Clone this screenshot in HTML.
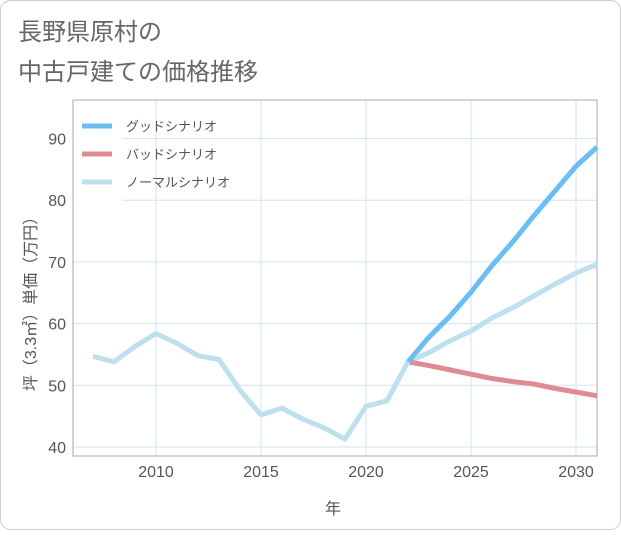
<!DOCTYPE html>
<html><head><meta charset="utf-8"><style>
body{margin:0;background:#fff;}
svg text{font-family:"Liberation Sans","Noto Sans CJK JP",sans-serif;}
</style></head><body>
<svg width="621" height="530" xmlns="http://www.w3.org/2000/svg">
<rect x="0.5" y="0.5" width="620" height="529" rx="10" fill="#fff" stroke="#ccc"/>
<text x="18" y="40" font-size="24" fill="#666">長野県原村の</text>
<text x="18" y="80" font-size="24" fill="#666">中古戸建ての価格推移</text>
<g id="grid"></g>
<rect x="73" y="100" width="524" height="356" fill="none" stroke="#aaa"/>
<g id="series"></g>
<g id="legend"></g>
<text x="333" y="514" font-size="16" fill="#555" text-anchor="middle">年</text>
<text transform="translate(36,300) rotate(-90)" font-size="16" fill="#555" text-anchor="middle">坪（3.3㎡）単価（万円）</text>
</svg>
<script>
const years=[2007,2008,2009,2010,2011,2012,2013,2014,2015,2016,2017,2018,2019,2020,2021,2022];
const history=[54.7,53.8,56.3,58.4,56.8,54.8,54.2,49.2,45.2,46.3,44.5,43.1,41.3,46.6,47.5,53.8];
const futureYears=[2022,2023,2024,2025,2026,2027,2028,2029,2030,2031];
const good=[53.8,57.8,61.2,65.1,69.4,73.3,77.5,81.5,85.5,88.6];
const bad=[53.8,53.2,52.5,51.8,51.1,50.6,50.2,49.5,48.9,48.3];
const normal=[53.8,55.3,57.2,58.8,60.9,62.6,64.5,66.4,68.2,69.6];
const xTicks=[2010,2015,2020,2025,2030];
const yTicks=[40,50,60,70,80,90];
const NS="http://www.w3.org/2000/svg";
const X=y=>156+(y-2010)*21;
const Y=v=>447-(v-40)*6.17;
function mk(t,a,p){const e=document.createElementNS(NS,t);for(const k in a)e.setAttribute(k,a[k]);p.appendChild(e);return e;}
const g=document.getElementById('grid');
xTicks.forEach(t=>{
 const l=mk('line',{x1:X(t),x2:X(t),y1:100,y2:456,stroke:'#d5e3ec'},g);
 
 
 const tx=mk('text',{x:X(t),y:477,'font-size':16,fill:'#555','text-anchor':'middle'},g);tx.textContent=t;
 
 
});
yTicks.forEach(t=>{
 const l=mk('line',{x1:73,x2:597,y1:Y(t),y2:Y(t),stroke:'#d5e3ec'},g);
 
 
 const tx=mk('text',{x:66,y:Y(t)+6,'font-size':16,fill:'#555','text-anchor':'end'},g);tx.textContent=t;
 
 
});
const s=document.getElementById('series');
function line(xs,vs,c,name){
 const p=mk('polyline',{points:xs.map((x,i)=>X(x)+','+Y(vs[i])).join(' '),fill:'none',stroke:c,'stroke-width':5,'stroke-linejoin':'round'},s);
 
 
}
line(futureYears,normal,'#bde0ec','normal-scenario-line');
line(futureYears,bad,'#e08a92','bad-scenario-line');
line(futureYears,good,'#6bbdf2','good-scenario-line');
line(years,history,'#bde0ec','history-line');
const lg=document.getElementById('legend');
const bg=mk('rect',{x:74,y:106,width:48,height:98,fill:'#fff'},lg);


[['グッドシナリオ','#6bbdf2'],['バッドシナリオ','#e08a92'],['ノーマルシナリオ','#bde0ec']].forEach((d,i)=>{
 const y=126+i*28;
 const l=mk('line',{x1:82,x2:112,y1:y,y2:y,stroke:d[1],'stroke-width':5},lg);
 
 
 const t=mk('text',{x:126,y:y+5,'font-size':13,fill:'#555'},lg);t.textContent=d[0];
 
 
});
</script>
</body></html>
